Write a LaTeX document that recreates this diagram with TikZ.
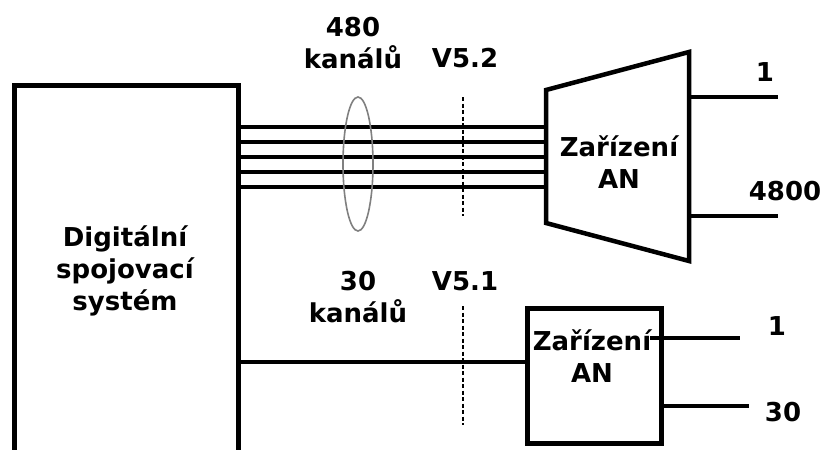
\documentclass[tikz,border=0pt]{standalone}
\usepackage{fontspec}
\usetikzlibrary{shapes.geometric}
\newfontfamily\lbl{DejaVu Sans Bold}
\begin{document}
\begin{tikzpicture}[x=1pt,y=-1pt,
  thick line/.style={line width=4.5pt},
  txt/.style={font=\lbl\fontsize{26}{32}\selectfont, inner sep=0pt, align=center},
  cut/.style={line width=1.3pt, dash pattern=on 4pt off 2.5pt},
  bundle/.style={draw=gray, line width=1.6pt}]
\useasboundingbox (0,0) rectangle (823,450);
% digital switching system (open at bottom, cut by page)
\node[draw, line width=4.5pt, minimum width=224pt, minimum height=400pt, anchor=north west, inner sep=0pt] (dss) at (12,83) {};
\node[txt] (dsst) at (125,271) {Digitální\\spojovací\\systém};
% trapezoid AN
\coordinate (tl) at (546,90);
\coordinate (bl) at (546,223);
\coordinate (tr) at (689,52);
\coordinate (br) at (689,261);
\draw[thick line, line join=miter] (tl) -- (tr) -- (br) -- (bl) -- cycle;
\node[txt] (an1) at (619,162) {Zařízení\\AN};
% five lines
\foreach \y [count=\i] in {127,142,157,172,187}{
  \coordinate (s\i) at (236,\y);
  \coordinate (e\i) at (546,\y);
  \draw[thick line] (s\i) -- (e\i);
}
% bundle ellipse
\node[bundle, ellipse, minimum width=30pt, minimum height=134pt, inner sep=0pt] (ell) at (358,164) {};
% V5.2 cut
\coordinate (c1a) at (463,97);
\coordinate (c1b) at (463,216);
\draw[cut] (c1a) -- (c1b);
\node[txt] (n480) at (353,43) {480\\kanálů};
\node[txt] (v52) at (465,58) {V5.2};
% outputs upper
\coordinate (o1s) at (689,97);
\coordinate (o1e) at (778,97);
\coordinate (o2s) at (689,216);
\coordinate (o2e) at (778,216);
\draw[thick line] (o1s) -- (o1e);
\draw[thick line] (o2s) -- (o2e);
\node[txt] (l1) at (765,72) {1};
\node[txt] (l4800) at (785,191) {4800};
% lower AN box
\node[draw, line width=4.5pt, minimum width=134pt, minimum height=135pt, anchor=north west, inner sep=0pt] (an2) at (525,306) {};
\node[txt] (an2t) at (592,356) {Zařízení\\AN};
\coordinate (s6) at (236,362);
\draw[thick line] (s6) -- (an2.west |- s6);
\coordinate (c2a) at (463,306);
\coordinate (c2b) at (463,425);
\draw[cut] (c2a) -- (c2b);
\node[txt] (n30) at (358,297) {30\\kanálů};
\node[txt] (v51) at (465,281) {V5.1};
\coordinate (p1s) at (650,338);
\coordinate (p1e) at (740,338);
\coordinate (p2e) at (749,406);
\draw[thick line] (p1s) -- (p1e);
\draw[thick line] (an2.east |- p2e) -- (p2e);
\node[txt] (m1) at (777,326) {1};
\node[txt] (m30) at (783,412) {30};
\end{tikzpicture}
\end{document}
